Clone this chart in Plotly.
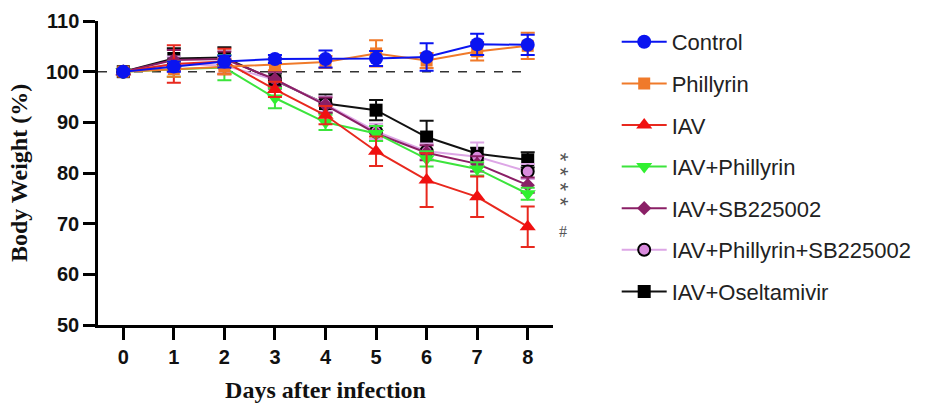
import plotly.graph_objects as go

days = [0, 1, 2, 3, 4, 5, 6, 7, 8]
day_ticks = ["0", "1", "2", "3", "4", "5", "6", "7", "8"]

control = [100, 101.0, 102.0, 102.5, 102.5, 102.6, 102.9, 105.4, 105.3]
control_err = [0.5, 1.0, 1.2, 0.8, 1.7, 1.5, 2.7, 2.1, 2.0]
phillyrin = [100, 100.5, 101.0, 101.5, 101.9, 103.6, 102.2, 104.0, 105.1]
phillyrin_err = [0.5, 1.5, 1.5, 1.2, 1.2, 2.6, 1.5, 1.8, 2.6]
iav = [100, 101.5, 102.0, 96.5, 91.4, 84.3, 78.6, 75.3, 69.4]
iav_err = [0.5, 3.7, 2.5, 1.5, 1.8, 2.9, 5.3, 4.0, 4.0]
iav_phil = [100, 100.5, 100.8, 94.8, 90.0, 87.8, 82.8, 80.8, 75.9]
iav_phil_err = [0.5, 1.5, 2.5, 2.0, 1.5, 1.5, 1.5, 1.3, 1.2]
iav_sb = [100, 102.3, 102.5, 98.5, 93.4, 87.8, 84.0, 81.8, 77.6]
iav_sb_err = [0.5, 2.0, 1.5, 1.5, 1.5, 1.5, 1.5, 1.5, 1.5]
iav_phil_sb = [100, 101.5, 101.2, 98.4, 93.6, 88.2, 84.3, 83.2, 80.3]
iav_phil_sb_err = [0.5, 1.5, 1.5, 1.5, 1.5, 1.5, 1.5, 2.8, 1.5]
iav_osel = [100, 102.6, 102.8, 98.2, 93.7, 92.4, 87.1, 83.8, 82.6]
iav_osel_err = [0.5, 2.0, 2.0, 1.5, 1.8, 2.0, 3.2, 1.2, 1.5]

baseline = 100
sig_marks = ["* *", "* *", "#"]
sig_y = [81.7, 75.8, 68.4]
sig_x = [1.017, 1.017, 1.022]
sig_angle = [90, 90, 0]
sig_fonts = ["Liberation Sans, Arial", "Liberation Sans, Arial", "Liberation Serif, Times New Roman"]
sig_sizes = [22, 22, 16]

series = [
    ("Control", control, control_err, "#0A14F0", "#0A14F0", "circle", 14, "#0A14F0", 0),
    ("Phillyrin", phillyrin, phillyrin_err, "#F07A2A", "#F07A2A", "square", 12, "#F07A2A", 0),
    ("IAV", iav, iav_err, "#E8281E", "#F01010", "triangle-up", 14, "#F01010", 0),
    ("IAV+Phillyrin", iav_phil, iav_phil_err, "#3CE43C", "#30F030", "triangle-down", 14, "#30F030", 0),
    ("IAV+SB225002", iav_sb, iav_sb_err, "#8A1F66", "#8A1F66", "diamond", 11, "#8A1F66", 0),
    ("IAV+Phillyrin+SB225002", iav_phil_sb, iav_phil_sb_err, "#DDA6E6", "#D98BDD", "circle", 12, "#000000", 2),
    ("IAV+Oseltamivir", iav_osel, iav_osel_err, "#111111", "#000000", "square", 13, "#000000", 0),
]

fig = go.Figure()
for i, (name, vals, errs, lcol, mcol, sym, size, edge, ew) in reversed(list(enumerate(series))):
    fig.add_trace(go.Scatter(
        x=days, y=vals, name=name, mode="lines+markers",
        legendgroup=name, legendrank=i,
        line=dict(color=lcol, width=2),
        marker=dict(color=mcol, symbol=sym, size=size, line=dict(color=edge, width=ew)),
        error_y=dict(type="data", array=errs, visible=True, color=lcol, thickness=2, width=7),
    ))

fig.add_shape(type="line", xref="x", yref="y", x0=-0.5, x1=8, y0=baseline, y1=baseline,
              line=dict(color="#333333", width=1.5, dash="dash"), layer="below")

for s, yv, xv, ang, fam, sz in zip(sig_marks, sig_y, sig_x, sig_angle, sig_fonts, sig_sizes):
    fig.add_annotation(x=xv, y=yv, xref="paper", yref="y", text=s, showarrow=False,
                       xanchor="center", yanchor="middle", borderpad=0, textangle=ang,
                       font=dict(family=fam, size=sz, color="#555555"))

fig.update_layout(
    width=947, height=403,
    margin=dict(l=98, r=394, t=21, b=78),
    plot_bgcolor="white", paper_bgcolor="white",
    showlegend=True,
    legend=dict(x=1.14, y=1.0, xanchor="left", yanchor="top", maxheight=400,
                itemwidth=45,
                font=dict(family="Liberation Sans, Arial", size=22, color="#222222"),
                tracegroupgap=10, traceorder="grouped", bgcolor="rgba(0,0,0,0)"),
    xaxis=dict(range=[-0.5, 8.5], tickvals=days, ticktext=day_ticks, automargin=False,
               showline=True, linecolor="black", linewidth=2.5, ticks="outside",
               ticklen=12, tickwidth=2.5, tickcolor="black", showgrid=False, zeroline=False,
               tickfont=dict(family="Liberation Sans, Arial", size=20, color="#111111", weight="bold"),
               title=dict(text="Days after infection", standoff=20,
                          font=dict(family="Liberation Serif, Times New Roman", size=24, color="#111111", weight="bold"))),
    yaxis=dict(range=[50, 110], dtick=10, tick0=50, automargin=False,
               showline=True, linecolor="black", linewidth=2.5, ticks="outside",
               ticklen=12, tickwidth=2.5, tickcolor="black", showgrid=False, zeroline=False,
               tickfont=dict(family="Liberation Sans, Arial", size=20, color="#111111", weight="bold"),
               title=dict(text="Body Weight (%)", standoff=12,
                          font=dict(family="Liberation Serif, Times New Roman", size=24, color="#111111", weight="bold"))),
)

fig.write_html("out.html")
